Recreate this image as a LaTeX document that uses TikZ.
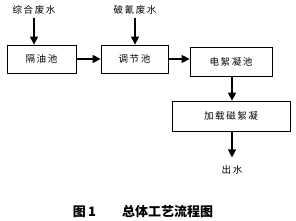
\documentclass[tikz,border=0pt]{standalone}
\usepackage{fontspec}
\setmainfont{Noto Sans CJK SC}
\usepackage{tikz}
\usetikzlibrary{arrows.meta, positioning}

\begin{document}
\begin{tikzpicture}[x=1pt, y=-1pt,
    unitbox/.style={draw, line width=0.8pt, minimum height=28pt, inner sep=0pt, font=\fontsize{9.5}{10}\selectfont},
    flow/.style={-{Triangle[length=8pt, width=8pt]}, line width=1.4pt},
    lbl/.style={inner sep=1pt, font=\fontsize{9.5}{10}\selectfont}]
  \useasboundingbox (0,0) rectangle (296,221);

  % inlets
  \node[lbl] (wastemix) at (34,10) {综\,合\,废\,水};
  \node[lbl] (wastecn) at (135,10) {破\,氰\,废\,水};

  % units
  \node[unitbox, minimum width=69pt] (oilsep) at (41.5,59) {隔\,油\,池};
  \node[unitbox, minimum width=67pt] (equal) at (134.5,59) {调\,节\,池};
  \node[unitbox, minimum width=82pt, minimum height=29pt] (electro) at (231,61.5) {电\,絮\,凝\,池};
  \node[unitbox, minimum width=118pt, minimum height=30pt] (magnet) at (231,116) {加\,载\,磁\,絮\,凝};
  \node[lbl] (outlet) at (232,170) {出\,水};

  \draw[flow] ([yshift=-2pt]wastemix.south) -- (wastemix.south |- oilsep.north);
  \draw[flow] ([yshift=-2pt]wastecn.south) -- (wastecn.south |- equal.north);
  \draw[flow] (oilsep) -- (equal);
  \draw[flow] (equal) -- (electro.west |- equal);
  \draw[flow] (outlet.north |- electro.south) -- (outlet.north |- magnet.north);
  \draw[flow] (outlet.north |- magnet.south) -- ([yshift=7pt]outlet.north);

  % caption
  \node[inner sep=0pt, font=\fontsize{13}{14}\selectfont\bfseries] (caption) at (143,212) {图\,1\qquad 总体工艺流程图};
\end{tikzpicture}
\end{document}
